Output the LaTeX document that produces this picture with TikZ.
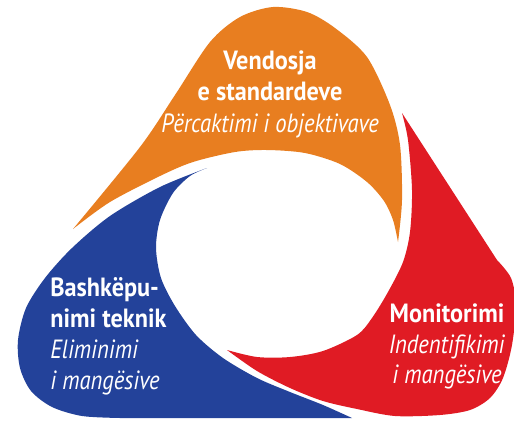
\documentclass[tikz,border=0pt]{standalone}
\usepackage{fontspec}
\setmainfont{PT Sans}[UprightFeatures = {FakeStretch=0.86}, ItalicFeatures = {FakeStretch=0.86}, BoldFeatures = {FakeStretch=0.92}]
\usepackage{tikz}
\usetikzlibrary{positioning}
\definecolor{corange}{RGB}{232,126,32}
\definecolor{cred}{RGB}{224,27,36}
\definecolor{cblue}{RGB}{35,66,154}

\begin{document}
\begin{tikzpicture}[
			x = 0.02cm, y = -0.02cm,
			every node/.style = {text = white, inner sep = 0pt, font = \fontsize{15}{17.6}\selectfont},
			lbl/.style = {align = center},
			lblleft/.style = {align = left}]

			\clip (0,0) rectangle (514,420);

			% orange piece (top)
			\fill[corange] plot[smooth] coordinates {(73,229) (140,147) (175,95) (210,42) (240,17) (273,7) (307,12) (335,28) (367,57) (390,105) (400,145) (402,200) (398,242)}
				-- plot[smooth] coordinates {(398,242) (393,220) (384,201) (367,182) (340,164) (305,153) (267,150) (235,152) (193,162) (160,176) (110,202) (73,229)} -- cycle;

			% blue piece (left)
			\fill[cblue] plot[smooth] coordinates {(207,168) (160,187) (110,216) (72,248) (45,278) (26,308) (18,340) (20,368) (31,391) (52,407) (82,416) (120,418)}
				-- (352,418)
				-- plot[smooth] coordinates {(352,418) (323,405) (290,392) (257,378) (223,358) (196,335) (175,306) (161,278) (156,248) (160,220) (173,193) (190,176) (207,168)} -- cycle;

			% red piece (right)
			\fill[cred] plot[smooth] coordinates {(227,350) (257,371) (290,388) (323,401) (357,409) (395,416) (440,415) (470,410) (490,398) (503,378) (512,345) (516,305) (511,278) (497,260)}
				-- (402,113)
				-- plot[smooth] coordinates {(402,113) (408,140) (412,190) (410,232) (403,262) (388,292) (372,318) (357,335) (323,351) (290,357) (257,357) (227,350)} -- cycle;

			\node[lbl, anchor = north, font = \fontsize{15}{18}\selectfont] (std) at (270,50) {\textbf{Vendosja}\\\textbf{e standardeve}\\\textit{Përcaktimi i objektivave}};
			\node[lblleft, anchor = north west] (tek) at (50,277) {\textbf{Bashkëpu-}\\\textbf{nimi teknik}\\\textit{Eliminimi}\\\textit{i mangësive}};
			\node[lbl, anchor = north] (mon) at (447,303) {\textbf{Monitorimi}\\\textit{Indentifikimi}\\\textit{i mangësive}};

		\end{tikzpicture}
\end{document}
